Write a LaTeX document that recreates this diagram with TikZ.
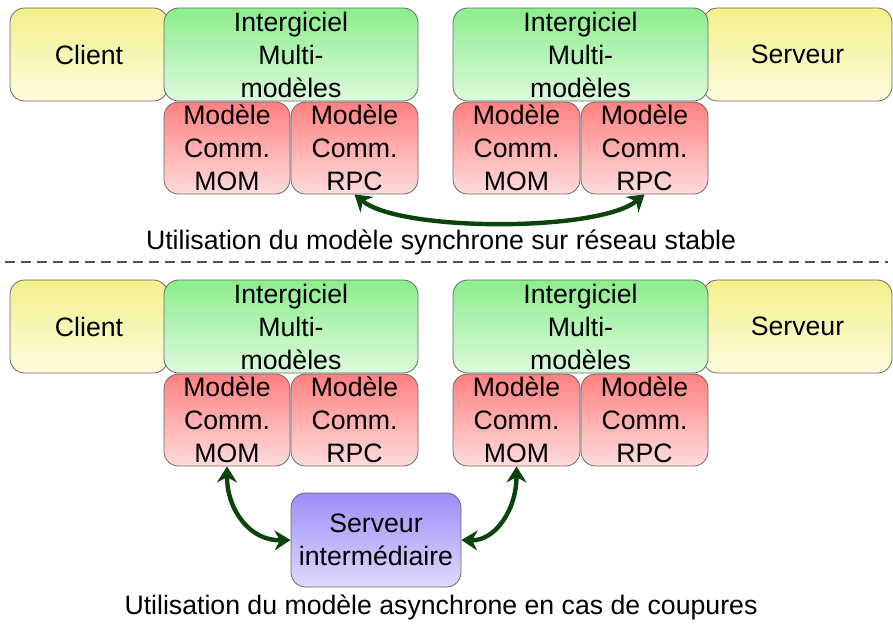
\documentclass[tikz,border=0pt]{standalone}
\usepackage{fontspec}
\setmainfont{Liberation Sans}
\usetikzlibrary{arrows.meta}

\definecolor{jaunehaut}{RGB}{244,240,138}
\definecolor{jaunebas}{RGB}{252,252,222}
\definecolor{verthaut}{RGB}{140,238,140}
\definecolor{vertbas}{RGB}{220,250,220}
\definecolor{rougehaut}{RGB}{255,128,128}
\definecolor{rougebas}{RGB}{255,220,220}
\definecolor{violethaut}{RGB}{160,140,250}
\definecolor{violetbas}{RGB}{222,218,252}
\definecolor{vertfonce}{RGB}{10,68,10}
\definecolor{bord}{RGB}{105,105,105}

\tikzset{
  boite/.style={draw=bord, line width=0.6pt, rounded corners=11pt, inner sep=0pt,
    align=center, font=\fontsize{20}{24.75}\selectfont},
  hote/.style={boite, top color=jaunehaut, bottom color=jaunebas, minimum height=69.75pt},
  inter/.style={boite, top color=verthaut, bottom color=vertbas, minimum height=69.75pt},
  modele/.style={boite, top color=rougehaut, bottom color=rougebas, minimum height=69pt},
  relais/.style={boite, top color=violethaut, bottom color=violetbas},
  lien/.style={line width=3.3pt, draw=vertfonce,
    {Stealth[length=12pt,width=15pt]}-{Stealth[length=12pt,width=15pt]}},
  legende/.style={inner sep=0pt, font=\fontsize{20}{24}\selectfont}
}

\begin{document}
\begin{tikzpicture}[x=0.75pt,y=-0.75pt]
\useasboundingbox (0,0) rectangle (893,626);

% synchrone
\node[hote, minimum width=118.5pt] (cli1) at (89,54.5) {Client};
\node[inter, minimum width=190.5pt] (int1) at (291,54.5) {Intergiciel\\Multi-\\modèles};
\node[modele, minimum width=94.5pt] (mom1) at (227,148) {Modèle\\Comm.\\MOM};
\node[modele, minimum width=95.25pt] (rpc1) at (354.5,148) {Modèle\\Comm.\\RPC};
\node[hote, minimum width=141.75pt] (srv1) at (797.5,54.5) {Serveur};
\node[inter, minimum width=191.25pt] (int2) at (580.5,54.5) {Intergiciel\\Multi-\\modèles};
\node[modele, minimum width=95.25pt] (mom2) at (516.5,148) {Modèle\\Comm.\\MOM};
\node[modele, minimum width=95.25pt] (rpc2) at (644.5,148) {Modèle\\Comm.\\RPC};
\draw[lien] (rpc1.south) .. controls (400,232) and (599,232) .. (rpc2.south);
\node[legende] (leg1) at (441,242) {Utilisation du modèle synchrone sur réseau stable};

\draw[bord!80!black, line width=1.3pt, dash pattern=on 7.5pt off 4.5pt] (5,262) -- (888,262);

% asynchrone
\node[hote, minimum width=118.5pt] (cli2) at (89,326.5) {Client};
\node[inter, minimum width=190.5pt] (int3) at (291,326.5) {Intergiciel\\Multi-\\modèles};
\node[modele, minimum width=94.5pt] (mom3) at (227,420) {Modèle\\Comm.\\MOM};
\node[modele, minimum width=95.25pt] (rpc3) at (354.5,420) {Modèle\\Comm.\\RPC};
\node[hote, minimum width=141.75pt] (srv2) at (797.5,326.5) {Serveur};
\node[inter, minimum width=191.25pt] (int4) at (580.5,326.5) {Intergiciel\\Multi-\\modèles};
\node[modele, minimum width=95.25pt] (mom4) at (516.5,420) {Modèle\\Comm.\\MOM};
\node[modele, minimum width=95.25pt] (rpc4) at (644.5,420) {Modèle\\Comm.\\RPC};
\node[relais, minimum width=127.5pt, minimum height=70.5pt] (inter) at (376,540) {Serveur\\intermédiaire};
\draw[lien] (mom3.south) .. controls (227,510) and (250,541) .. (inter.west);
\draw[lien] (mom4.south) .. controls (516.5,510) and (495,541) .. (inter.east);
\node[legende] (leg2) at (441,607) {Utilisation du modèle asynchrone en cas de coupures};
\end{tikzpicture}
\end{document}
